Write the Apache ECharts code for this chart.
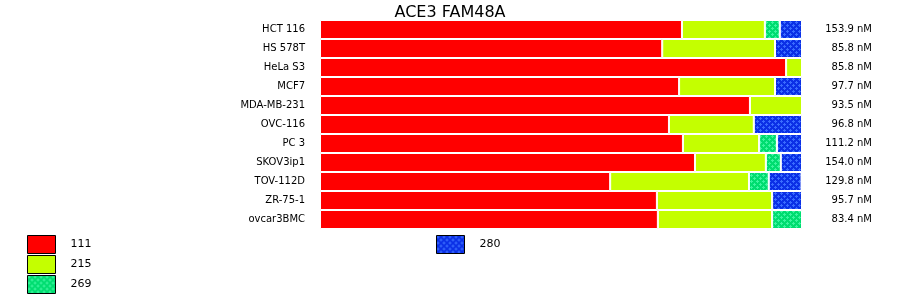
<!DOCTYPE html>
<html>
<head>
<meta charset="utf-8">
<script src="https://cdn.jsdelivr.net/npm/echarts@6/dist/echarts.min.js"></script>
<style>html,body{margin:0;padding:0;background:#fff}#c{width:900px;height:299px}</style>
</head>
<body>
<div id="c"></div>
<script>
const title = 'ACE3 FAM48A';
const categories = ['HCT 116','HS 578T','HeLa S3','MCF7','MDA-MB-231','OVC-116','PC 3','SKOV3ip1','TOV-112D','ZR-75-1','ovcar3BMC'];
const totals = ['153.9 nM','85.8 nM','85.8 nM','97.7 nM','93.5 nM','96.8 nM','111.2 nM','154.0 nM','129.8 nM','95.7 nM','83.4 nM'];
const seriesNames = ['111','215','269','280'];
const s111 = [75.1, 71.0, 96.7, 74.5, 89.2, 72.4, 75.3, 77.8, 60.2, 69.9, 70.1];
const s215 = [17.2, 23.4, 3.3, 19.9, 10.8, 17.6, 15.8, 14.7, 28.8, 23.9, 23.7];
const s269 = [3.1, null, null, null, null, null, 3.7, 3.1, 4.1, null, 6.2];
const s280 = [4.6, 5.6, null, 5.6, null, 10.0, 5.2, 4.4, 6.8, 6.2, null];

function pattern(base, dot) {
  const c = document.createElement('canvas');
  c.width = 6; c.height = 6;
  const g = c.getContext('2d');
  g.fillStyle = base; g.fillRect(0, 0, 6, 6);
  g.fillStyle = dot;
  const plus = (x, y) => {
    g.fillRect(x - 1, y, 3, 1);
    g.fillRect(x, y - 1, 1, 3);
  };
  plus(1, 1); plus(4, 4); plus(7, 1); plus(1, 7);
  return { image: c, repeat: 'repeat' };
}

const colors = ['#ff0000', '#c4ff00', pattern('#00dd70', '#3cf5a0'), pattern('#0b30e6', '#3a6cff')];
const dataSets = [s111, s215, s269, s280];

const chart = echarts.init(document.getElementById('c'), null, { renderer: 'canvas' });
const fontFamily = 'DejaVu Sans';
const legendBase = {
  orient: 'vertical', top: 235, padding: 0,
  itemWidth: 28, itemHeight: 18, itemGap: 1, icon: 'rect',
  itemStyle: { borderColor: '#000', borderWidth: 1 },
  textStyle: { fontFamily, fontSize: 11, color: '#000', padding: [0, 0, 0, 10] },
  selectedMode: false
};
chart.setOption({
  animation: false,
  title: {
    text: title, left: 'center', top: 0,
    textStyle: { fontFamily: 'DejaVu Sans', fontSize: 16, fontWeight: 'normal', color: '#000' }
  },
  legend: [
    Object.assign({}, legendBase, { data: ['111', '215', '269'], left: 27 }),
    Object.assign({}, legendBase, { data: ['280'], left: 436 })
  ],
  grid: { left: 320, top: 20, width: 482, height: 209, containLabel: false },
  xAxis: { type: 'value', min: 0, max: 100, show: false },
  yAxis: [
    {
      type: 'category', data: categories, inverse: true,
      axisLine: { show: false }, axisTick: { show: false }, splitLine: { show: false },
      axisLabel: { margin: 15, fontFamily, fontSize: 10, color: '#000' }
    },
    {
      type: 'category', data: totals, inverse: true, position: 'right',
      axisLine: { show: false }, axisTick: { show: false }, splitLine: { show: false },
      axisLabel: { margin: 70, align: 'right', fontFamily, fontSize: 10, color: '#000' }
    }
  ],
  series: seriesNames.map((n, i) => ({
    name: n, type: 'bar', stack: 'all', yAxisIndex: 0,
    barCategoryGap: 0, barWidth: '100%',
    data: dataSets[i],
    itemStyle: { color: colors[i], borderColor: '#fff', borderWidth: 1 }
  }))
});
</script>
</body>
</html>
